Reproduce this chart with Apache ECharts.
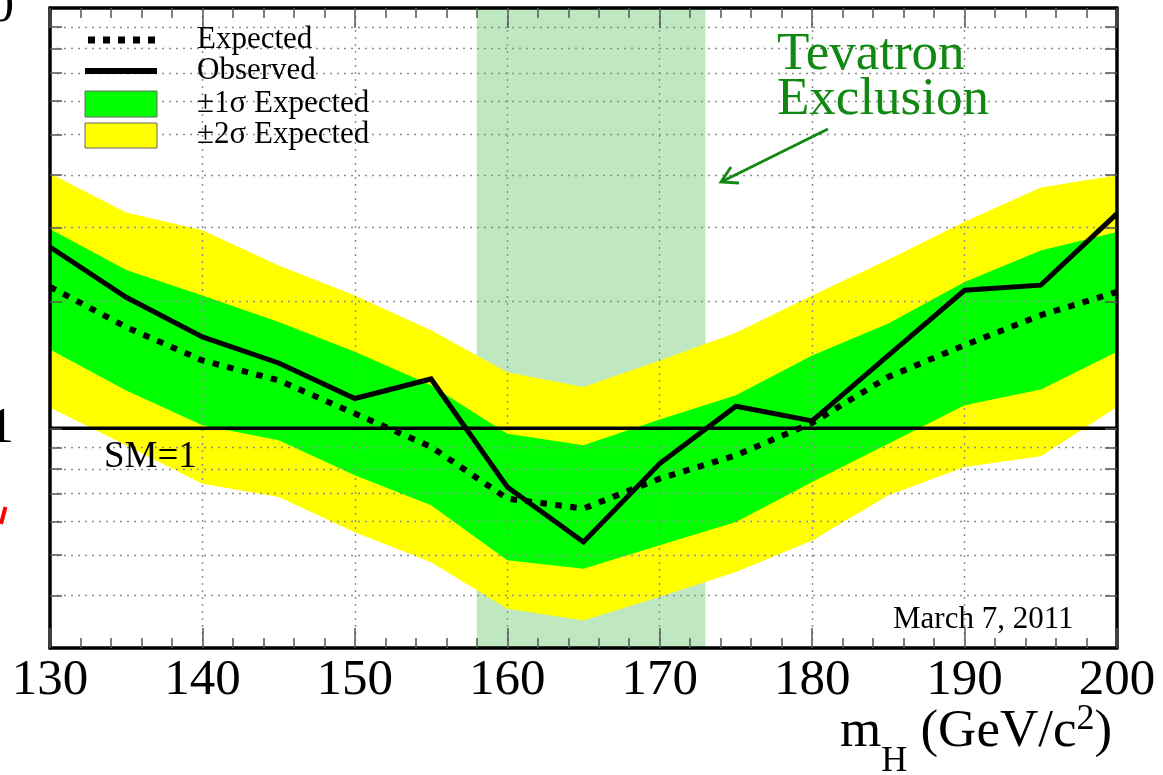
<!DOCTYPE html>
<html>
<head>
<meta charset="utf-8">
<script src="https://cdn.jsdelivr.net/npm/echarts@6/dist/echarts.min.js"></script>
<style>
  html, body { margin: 0; padding: 0; background: #fff; }
  #chart { width: 1163px; height: 775px; }
</style>
</head>
<body>
<div id="chart"></div>
<script>
// Higgs mass points (GeV/c^2)
const masses = [130, 135, 140, 145, 150, 155, 160, 165, 170, 175, 180, 185, 190, 195, 200];
// 95% CL limit / SM
const observed = [2.70, 2.05, 1.65, 1.43, 1.177, 1.31, 0.725, 0.536, 0.824, 1.128, 1.041, 1.49, 2.13, 2.19, 3.24];
const expected = [2.17, 1.74, 1.45, 1.30, 1.084, 0.903, 0.680, 0.644, 0.759, 0.862, 1.03, 1.325, 1.576, 1.858, 2.11];
const oneSigmaLo = [1.54, 1.23, 1.017, 0.936, 0.773, 0.656, 0.485, 0.463, 0.527, 0.598, 0.745, 0.919, 1.134, 1.236, 1.52];
const oneSigmaHi = [2.98, 2.38, 2.07, 1.79, 1.52, 1.266, 0.971, 0.911, 1.049, 1.198, 1.49, 1.775, 2.23, 2.65, 2.93];
const twoSigmaLo = [1.12, 0.911, 0.738, 0.686, 0.566, 0.480, 0.372, 0.349, 0.397, 0.455, 0.541, 0.693, 0.809, 0.858, 1.124];
const twoSigmaHi = [4.04, 3.26, 2.96, 2.44, 2.07, 1.71, 1.36, 1.254, 1.45, 1.687, 2.07, 2.52, 3.10, 3.74, 4.00];
// Tevatron excluded mass window
const exclusion = [158, 173];
const smLevel = 1;
// Axis ticks and grid
const xTickLabels = [130, 140, 150, 160, 170, 180, 190, 200];
const yLabelValues = [1, 10];
const yMinorValues = [0.4, 0.5, 0.6, 0.7, 0.8, 0.9, 1, 2, 3, 4, 5, 6, 7, 8, 9];
const yGridValues = [0.4, 0.5, 0.6, 0.7, 0.8, 0.9, 2, 3, 4, 5, 6, 7, 8, 9];
const xGridValues = [140, 150, 160, 170, 180, 190];

const SERIF = "'Liberation Serif', 'Times New Roman', serif";
const TICK_COLOR = '#555';
const GREEN_TEXT = '#118811';

function bandSeries(name, lo, hi, color, z) {
  return {
    type: 'custom',
    name: name,
    coordinateSystem: 'cartesian2d',
    z: z,
    silent: true,
    clip: true,
    data: [[masses[0], lo[0]]],
    renderItem: function (params, api) {
      const pts = [];
      for (let i = 0; i < masses.length; i++) pts.push(api.coord([masses[i], hi[i]]));
      for (let i = masses.length - 1; i >= 0; i--) pts.push(api.coord([masses[i], lo[i]]));
      return { type: 'polygon', shape: { points: pts }, style: { fill: color, stroke: null } };
    }
  };
}

// Axis title "m_H (GeV/c^2)" laid out piece by piece on a common baseline
const measureCtx = document.createElement('canvas').getContext('2d');
function textWidth(str, size) {
  measureCtx.font = size + 'px ' + SERIF;
  return measureCtx.measureText(str).width;
}
function axisTitle(x0, baseline) {
  const main = 53, small = 36;
  const parts = [
    { t: 'm', size: main, dy: 0 },
    { t: 'H', size: small, dy: 25 },
    { t: ' (GeV/c', size: main, dy: 0 },
    { t: '2', size: small, dy: -17 },
    { t: ')', size: main, dy: 0 }
  ];
  let x = x0;
  return parts.map(p => {
    const el = {
      type: 'text', z: 10, x: x, y: baseline + p.dy,
      style: { text: p.t, fontSize: p.size, fontFamily: SERIF, fill: '#000', verticalAlign: 'bottom', textVerticalAlign: 'bottom' }
    };
    // 'bottom' puts the em box bottom at y; shift so the baseline lands on y
    el.y += p.size * 0.216;
    x += textWidth(p.t, p.size);
    return el;
  });
}

const xBase = {
  type: 'value', min: 130, max: 200, interval: 10,
  axisLine: { show: true, onZero: false, lineStyle: { color: '#000', width: 3.5 } },
  axisTick: { show: true, inside: true, length: 20, lineStyle: { color: TICK_COLOR, width: 1.5 } },
  minorTick: { show: true, splitNumber: 5, length: 10, lineStyle: { color: TICK_COLOR, width: 1.5 } },
  splitLine: { show: false },
  z: 8
};
const yBase = {
  type: 'log', logBase: 10, min: 0.3, max: 10,
  axisLine: { show: true, onZero: false, lineStyle: { color: '#000', width: 3.5 } },
  axisTick: { show: true, inside: true, length: 12, customValues: yMinorValues, lineStyle: { color: TICK_COLOR, width: 1.5 } },
  minorTick: { show: false },
  splitLine: { show: false },
  z: 8
};

const chart = echarts.init(document.getElementById('chart'), null, { renderer: 'canvas' });
chart.setOption({
  animation: false,
  backgroundColor: '#fff',
  grid: { left: 50, top: 8, right: 46, bottom: 127, containLabel: false, outerBoundsMode: 'none' },
  xAxis: [
    Object.assign({}, xBase, {
      position: 'bottom',
      axisLabel: {
        show: true, margin: 7, fontSize: 51, fontFamily: SERIF, color: '#000',
        customValues: xTickLabels
      }
    }),
    Object.assign({}, xBase, { position: 'top', axisLabel: { show: false } })
  ],
  yAxis: [
    Object.assign({}, yBase, {
      position: 'left',
      axisLabel: {
        show: true, margin: 36, fontSize: 51, fontFamily: SERIF, color: '#000',
        customValues: yLabelValues,
        formatter: function (v) { return String(+(+v).toPrecision(6)); }
      }
    }),
    Object.assign({}, yBase, { position: 'right', axisLabel: { show: false } })
  ],
  series: [
    {
      type: 'line', name: 'Tevatron Exclusion', data: [[masses[0], smLevel]],
      symbol: 'none', lineStyle: { opacity: 0 }, z: 1, silent: true,
      markArea: {
        silent: true,
        itemStyle: { color: '#bfe8c1' },
        data: [[{ xAxis: exclusion[0] }, { xAxis: exclusion[1] }]]
      }
    },
    bandSeries('±2σ Expected', twoSigmaLo, twoSigmaHi, '#ffff00', 2),
    bandSeries('±1σ Expected', oneSigmaLo, oneSigmaHi, '#00ff00', 3),
    {
      type: 'line', name: 'grid', data: [[masses[0], smLevel]],
      symbol: 'none', lineStyle: { opacity: 0 }, z: 4, silent: true,
      markLine: {
        silent: true, symbol: ['none', 'none'], label: { show: false },
        lineStyle: { type: [2, 5], color: '#8c8c8c', width: 1.4 },
        data: yGridValues.map(v => ({ yAxis: v })).concat(xGridValues.map(v => ({ xAxis: v })))
      }
    },
    {
      type: 'line', name: 'SM', data: [[130, smLevel], [200, smLevel]],
      symbol: 'none', z: 5, silent: true,
      lineStyle: { color: '#000', width: 3.5 }
    },
    {
      type: 'line', name: 'Expected', data: masses.map((m, i) => [m, expected[i]]),
      symbol: 'none', z: 6, silent: true,
      lineStyle: { color: '#000', width: 6, type: [6.5, 8.5], cap: 'butt' }
    },
    {
      type: 'line', name: 'Observed', data: masses.map((m, i) => [m, observed[i]]),
      symbol: 'none', z: 7, silent: true,
      lineStyle: { color: '#000', width: 5, join: 'miter', miterLimit: 10 }
    }
  ],
  graphic: [
    // legend samples
    { type: 'line', z: 10, shape: { x1: 88, y1: 40, x2: 158, y2: 40 }, style: { stroke: '#000', lineWidth: 7, lineDash: [7, 8] } },
    { type: 'line', z: 10, shape: { x1: 85, y1: 71, x2: 157, y2: 71 }, style: { stroke: '#000', lineWidth: 6 } },
    { type: 'rect', z: 10, shape: { x: 85, y: 91, width: 72, height: 26 }, style: { fill: '#00ff00', stroke: '#666', lineWidth: 1 } },
    { type: 'rect', z: 10, shape: { x: 85, y: 123, width: 72, height: 25 }, style: { fill: '#ffff00', stroke: '#666', lineWidth: 1 } },
    { type: 'text', z: 10, x: 197, y: 40, style: { text: 'Expected', fontSize: 31, fontFamily: SERIF, fill: '#000', verticalAlign: 'middle', textVerticalAlign: 'middle' } },
    { type: 'text', z: 10, x: 197, y: 71, style: { text: 'Observed', fontSize: 31, fontFamily: SERIF, fill: '#000', verticalAlign: 'middle', textVerticalAlign: 'middle' } },
    { type: 'text', z: 10, x: 197, y: 104, style: { text: '±1σ Expected', fontSize: 31, fontFamily: SERIF, fill: '#000', verticalAlign: 'middle', textVerticalAlign: 'middle' } },
    { type: 'text', z: 10, x: 197, y: 135, style: { text: '±2σ Expected', fontSize: 31, fontFamily: SERIF, fill: '#000', verticalAlign: 'middle', textVerticalAlign: 'middle' } },
    // exclusion annotation
    { type: 'text', z: 10, x: 777, y: 55, style: { text: 'Tevatron', fontSize: 53, fontFamily: SERIF, fill: GREEN_TEXT, verticalAlign: 'middle', textVerticalAlign: 'middle' } },
    { type: 'text', z: 10, x: 777, y: 100, style: { text: 'Exclusion', fontSize: 53, fontFamily: SERIF, fill: GREEN_TEXT, verticalAlign: 'middle', textVerticalAlign: 'middle' } },
    { type: 'polyline', z: 10, shape: { points: [[828, 129], [721, 182]] }, style: { stroke: GREEN_TEXT, lineWidth: 2.8, fill: null } },
    { type: 'polyline', z: 10, shape: { points: [[731, 167], [721, 182], [739, 183]] }, style: { stroke: GREEN_TEXT, lineWidth: 2.8, fill: null } },
    // SM reference label and date stamp
    { type: 'text', z: 10, x: 104, y: 457.5, style: { text: 'SM=1', fontSize: 37, fontFamily: SERIF, fill: '#000', verticalAlign: 'middle', textVerticalAlign: 'middle' } },
    { type: 'text', z: 10, x: 893, y: 620, style: { text: 'March 7, 2011', fontSize: 31, fontFamily: SERIF, fill: '#000', verticalAlign: 'middle', textVerticalAlign: 'middle' } },
    // red mark at the left margin
    { type: 'line', z: 10, shape: { x1: 5.5, y1: 507, x2: 1, y2: 524 }, style: { stroke: '#ff0000', lineWidth: 4 } }
  ].concat(axisTitle(840, 747))
});
</script>
</body>
</html>
